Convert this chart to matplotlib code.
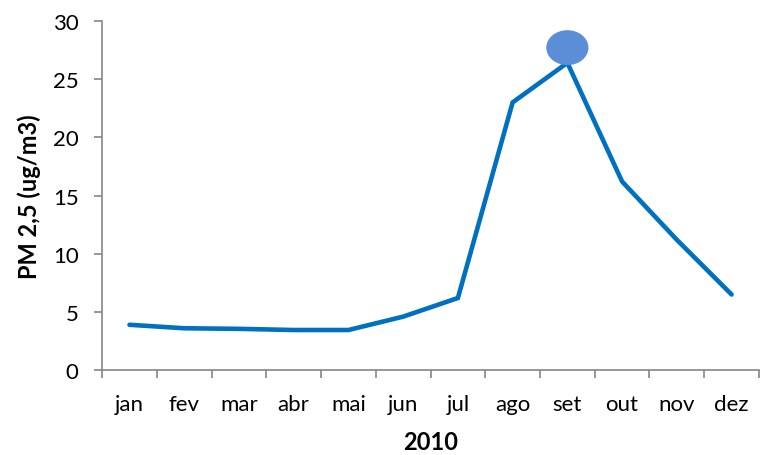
import matplotlib
matplotlib.use('Agg')
import matplotlib.pyplot as plt
from matplotlib.patches import Ellipse
import numpy as np

# Monthly PM 2.5 averages, 2010
months = ['jan', 'fev', 'mar', 'abr', 'mai', 'jun', 'jul', 'ago', 'set', 'out', 'nov', 'dez']
pm25 = [3.9, 3.6, 3.55, 3.45, 3.45, 4.6, 6.2, 23.0, 26.4, 16.2, 11.2, 6.5]
highlight_month = 'set'
highlight_value = 27.7

plt.rcParams['font.family'] = ['Lato', 'DejaVu Sans']

fig = plt.figure(figsize=(7.62, 4.56), dpi=100)
ax = fig.add_axes([0.134, 0.186, 0.862, 0.766])

x = np.arange(len(months))
ax.plot(x, pm25, color='#0070C0', linewidth=3.3, solid_joinstyle='miter', solid_capstyle='round')

# highlight marker on the peak
hx = months.index(highlight_month)
ax.add_patch(Ellipse((hx, highlight_value), width=0.77, height=3.0,
                     facecolor='#5B8ED6', edgecolor='none', zorder=3))

ax.set_xlim(-0.5, len(months) - 0.5)
ax.set_ylim(0, 30)
ax.set_yticks(range(0, 31, 5))

# tick marks between categories, labels centred on categories
ax.set_xticks(np.arange(-0.5, len(months), 1.0))
ax.set_xticklabels([])
ax.set_xticks(x, minor=True)
ax.set_xticklabels(months, minor=True)
ax.tick_params(axis='x', which='minor', length=0, pad=17, labelsize=16)
ax.tick_params(axis='x', which='major', length=6, width=1.2, color='#868686')
ax.tick_params(axis='y', length=6, width=1.2, color='#868686', labelsize=16, pad=11)

for side in ['top', 'right']:
    ax.spines[side].set_visible(False)
for side in ['left', 'bottom']:
    ax.spines[side].set_color('#868686')
    ax.spines[side].set_linewidth(1.2)

ax.set_ylabel('PM 2,5 (ug/m3)', fontsize=17, fontweight='bold', labelpad=8.5)
ax.set_xlabel('2010', fontsize=17, fontweight='bold', labelpad=12)

fig.savefig('out.png', dpi=100)
